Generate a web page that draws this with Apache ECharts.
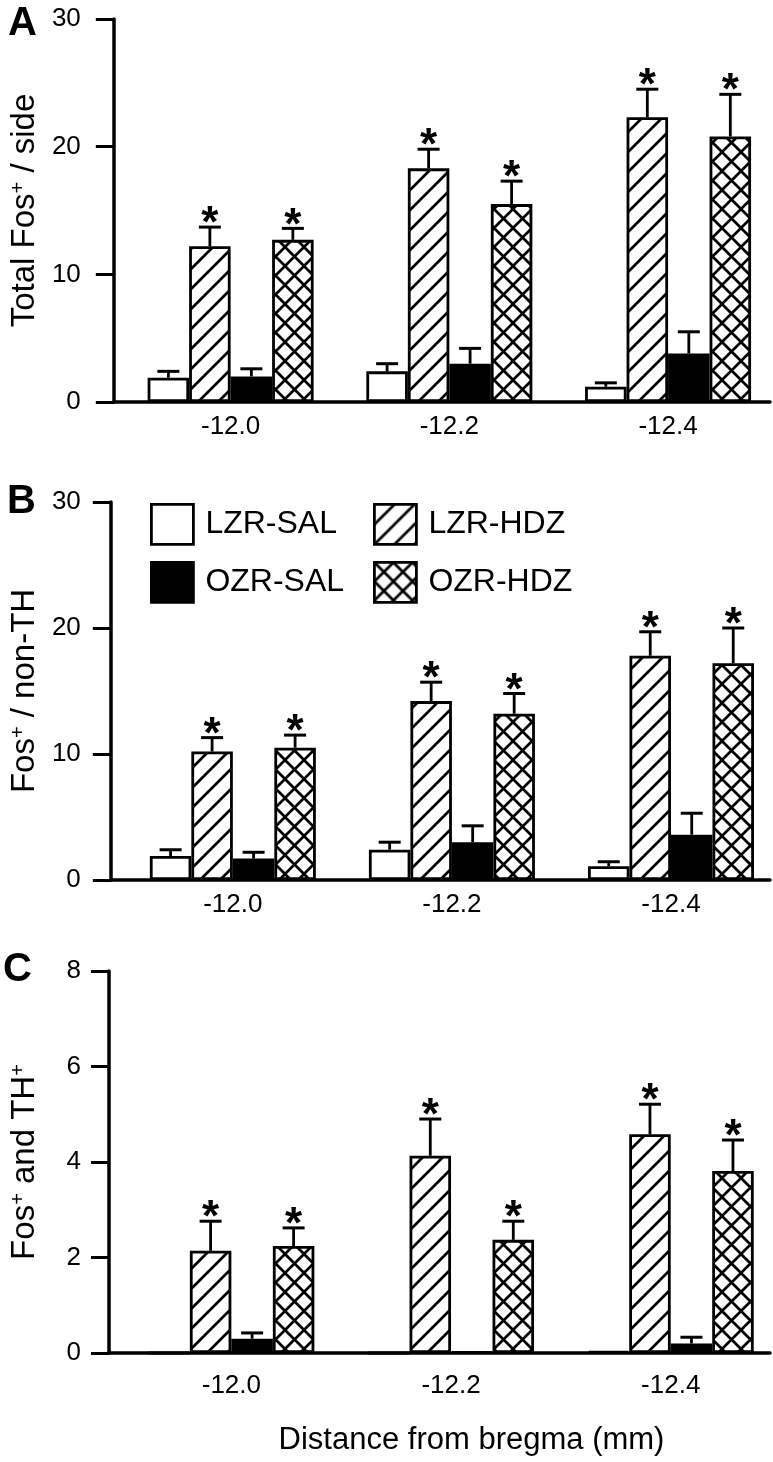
<!DOCTYPE html>
<html>
<head>
<meta charset="utf-8">
<script src="https://cdn.jsdelivr.net/npm/echarts@6/dist/echarts.min.js"></script>
<style>
html,body{margin:0;padding:0;background:#fff;}
#chart{width:773px;height:1462px;}
</style>
</head>
<body>
<div id="chart"></div>
<script>
// ---------- data ----------
const categories = ['-12.0', '-12.2', '-12.4'];
const seriesNames = ['LZR-SAL', 'LZR-HDZ', 'OZR-SAL', 'OZR-HDZ'];

// Panel A: Total Fos+ / side
const aLzrSal = [1.9, 2.4, 1.2];
const aLzrSalErr = [0.5, 0.6, 0.3];
const aLzrHdz = [12.2, 18.3, 22.3];
const aLzrHdzErr = [1.5, 1.5, 2.2];
const aOzrSal = [2.0, 3.0, 3.8];
const aOzrSalErr = [0.6, 1.2, 1.7];
const aOzrHdz = [12.7, 15.5, 20.8];
const aOzrHdzErr = [0.9, 1.8, 3.3];

// Panel B: Fos+ / non-TH
const bLzrSal = [1.9, 2.4, 1.1];
const bLzrSalErr = [0.5, 0.6, 0.35];
const bLzrHdz = [10.2, 14.2, 17.8];
const bLzrHdzErr = [1.1, 1.5, 1.9];
const bOzrSal = [1.7, 3.0, 3.6];
const bOzrSalErr = [0.5, 1.3, 1.7];
const bOzrHdz = [10.5, 13.2, 17.2];
const bOzrHdzErr = [1.0, 1.6, 2.8];

// Panel C: Fos+ and TH+
const cLzrSal = [0, 0, 0.04];
const cLzrSalErr = [0, 0, 0];
const cLzrHdz = [2.14, 4.13, 4.58];
const cLzrHdzErr = [0.62, 0.77, 0.63];
const cOzrSal = [0.3, 0.03, 0.2];
const cOzrSalErr = [0.12, 0, 0.13];
const cOzrHdz = [2.24, 2.37, 3.81];
const cOzrHdzErr = [0.38, 0.39, 0.65];

// significance (asterisk) flags per series
const sigFlags = [false, true, false, true];

// ---------- patterns ----------
function hatchTile(size, lw, cross) {
  const c = document.createElement('canvas');
  c.width = size; c.height = size;
  const ctx = c.getContext('2d');
  ctx.fillStyle = '#fff';
  ctx.fillRect(0, 0, size, size);
  ctx.strokeStyle = '#000';
  ctx.lineWidth = lw;
  ctx.lineCap = 'square';
  for (let k = -1; k <= 1; k++) {
    ctx.beginPath();
    ctx.moveTo(k * size, size);
    ctx.lineTo(k * size + size, 0);
    ctx.stroke();
    if (cross) {
      ctx.beginPath();
      ctx.moveTo(k * size, 0);
      ctx.lineTo(k * size + size, size);
      ctx.stroke();
    }
  }
  return c;
}
const diagFill = { image: hatchTile(20, 2.7, false), repeat: 'repeat' };
const crossFill = { image: hatchTile(19, 2.7, true), repeat: 'repeat' };
const fills = ['#ffffff', diagFill, '#000000', crossFill];

const BAR_W = 41.5;
const FONT = '"Liberation Sans", Arial, Helvetica, sans-serif';

const panels = [
  { vals: [aLzrSal, aLzrHdz, aOzrSal, aOzrHdz], errs: [aLzrSalErr, aLzrHdzErr, aOzrSalErr, aOzrHdzErr],
    grid: { left: 113, top: 19, width: 657, height: 383 }, xMin: -0.534, xMax: 2.466,
    yMax: 30, yInt: 10, name: 'Total Fos{sup|+} / side', nameGap: 72, labelMargin: 33, xMargin: 12 },
  { vals: [bLzrSal, bLzrHdz, bOzrSal, bOzrHdz], errs: [bLzrSalErr, bLzrHdzErr, bOzrSalErr, bOzrHdzErr],
    grid: { left: 108, top: 502, width: 662, height: 378 }, xMin: -0.557, xMax: 2.452,
    yMax: 30, yInt: 10, name: 'Fos{sup|+} / non-TH', nameGap: 68, labelMargin: 30, xMargin: 12 },
  { vals: [cLzrSal, cLzrHdz, cOzrSal, cOzrHdz], errs: [cLzrSalErr, cLzrHdzErr, cOzrSalErr, cOzrHdzErr],
    grid: { left: 108, top: 971, width: 662, height: 382 }, xMin: -0.557, xMax: 2.452,
    yMax: 8, yInt: 2, name: 'Fos{sup|+} and TH{sup|+}', nameGap: 68, labelMargin: 28, xMargin: 20 }
];

const grids = [], xAxes = [], yAxes = [], series = [];

function renderErr(params, api) {
  const x = api.value(0), mean = api.value(1), err = api.value(2), sIdx = api.value(3), sig = api.value(4);
  const base = api.coord([x, mean]);
  const cx = base[0] + (sIdx - 1.5) * BAR_W;
  let top = base[1];
  const children = [];
  if (err > 0) {
    top = api.coord([x, mean + err])[1];
    children.push({ type: 'line', shape: { x1: cx, y1: base[1], x2: cx, y2: top },
      style: { stroke: '#000', lineWidth: 2.8 } });
    children.push({ type: 'line', shape: { x1: cx - 11, y1: top, x2: cx + 11, y2: top },
      style: { stroke: '#000', lineWidth: 3 } });
  }
  if (sig) {
    children.push({ type: 'text', style: { text: '*', x: cx, y: top - 2, align: 'center',
      verticalAlign: 'middle', fontSize: 44, fontWeight: 'bold', fontFamily: FONT, fill: '#000' } });
  }
  return { type: 'group', children: children };
}

panels.forEach(function (p, pi) {
  grids.push(Object.assign({ containLabel: false }, p.grid));
  xAxes.push({
    gridIndex: pi, type: 'value', min: p.xMin, max: p.xMax,
    name: pi === 2 ? 'Distance from bregma (mm)' : '',
    nameLocation: 'middle', nameGap: 72,
    nameTextStyle: { fontSize: 31, color: '#000', fontFamily: FONT, padding: [0, 0, 0, 64] },
    axisLine: { show: true, onZero: false, lineStyle: { color: '#000', width: 3.5 } },
    axisTick: { show: false },
    splitLine: { show: false },
    axisLabel: { customValues: [0, 1, 2], formatter: function (v) { return categories[Math.round(v)]; },
      fontSize: 26, color: '#000', fontFamily: FONT, margin: p.xMargin }
  });
  yAxes.push({
    gridIndex: pi, type: 'value', min: 0, max: p.yMax, interval: p.yInt,
    name: p.name, nameLocation: 'middle', nameGap: p.nameGap, nameRotate: 90,
    nameTextStyle: { fontSize: 33, color: '#000', fontFamily: FONT,
      rich: { sup: { fontSize: 20, verticalAlign: 'top', fontFamily: FONT, color: '#000' } } },
    axisLine: { show: true, onZero: false, lineStyle: { color: '#000', width: 3.5 } },
    axisTick: { show: true, length: 18, lineStyle: { color: '#000', width: 3 } },
    splitLine: { show: false },
    axisLabel: { fontSize: 26, color: '#000', fontFamily: FONT, margin: p.labelMargin }
  });
  for (let s = 0; s < 4; s++) {
    series.push({
      type: 'bar', name: seriesNames[s], xAxisIndex: pi, yAxisIndex: pi,
      barWidth: BAR_W, barGap: '0%',
      itemStyle: { color: fills[s], borderColor: '#000', borderWidth: 2.8 },
      data: p.vals[s].map(function (v, i) { return [i, v]; }),
      z: 2
    });
  }
  const errData = [];
  for (let s = 0; s < 4; s++) {
    p.vals[s].forEach(function (v, i) {
      errData.push([i, v, p.errs[s][i], s, sigFlags[s] ? 1 : 0]);
    });
  }
  series.push({
    type: 'custom', name: 'err' + pi, xAxisIndex: pi, yAxisIndex: pi,
    renderItem: renderErr, encode: { x: 0, y: 1 }, data: errData, z: 3, silent: true
  });
});

function legendAt(name, left, top) {
  return {
    data: [{ name: name, icon: 'rect' }], left: left, top: top, orient: 'horizontal', padding: 0,
    itemWidth: 42, itemHeight: 40, selectedMode: false,
    itemStyle: { borderColor: '#000', borderWidth: 2.8 },
    textStyle: { fontSize: 32, color: '#000', fontFamily: FONT, padding: [0, 0, 0, 7] }
  };
}

const option = {
  animation: false,
  backgroundColor: '#fff',
  textStyle: { fontFamily: FONT },
  title: [
    { text: 'A', left: 8, top: 4, padding: 0, textStyle: { fontSize: 40, fontWeight: 'bold', color: '#000', fontFamily: FONT } },
    { text: 'B', left: 7, top: 482, padding: 0, textStyle: { fontSize: 40, fontWeight: 'bold', color: '#000', fontFamily: FONT } },
    { text: 'C', left: 3, top: 950, padding: 0, textStyle: { fontSize: 40, fontWeight: 'bold', color: '#000', fontFamily: FONT } }
  ],
  legend: [
    legendAt('LZR-SAL', 150, 503),
    legendAt('LZR-HDZ', 373, 503),
    legendAt('OZR-SAL', 150, 561),
    legendAt('OZR-HDZ', 373, 561)
  ],
  grid: grids,
  xAxis: xAxes,
  yAxis: yAxes,
  series: series
};

const chart = echarts.init(document.getElementById('chart'), null, { renderer: 'canvas' });
chart.setOption(option);
</script>
</body>
</html>
